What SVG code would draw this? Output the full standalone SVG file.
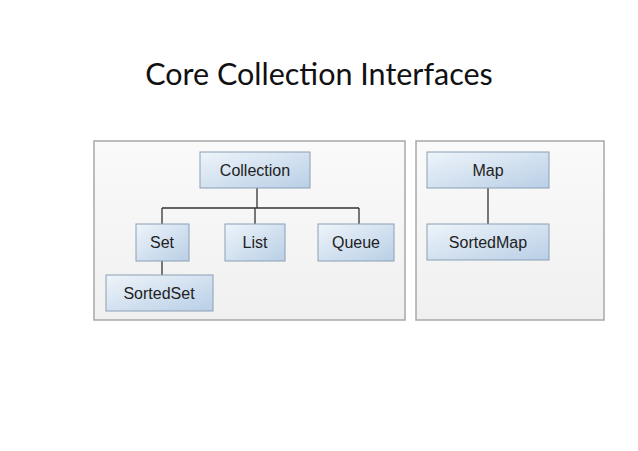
<svg xmlns="http://www.w3.org/2000/svg" width="638" height="451" viewBox="0 0 638 451">
<defs>
<linearGradient id="g" x1="0" y1="0" x2="1" y2="1">
<stop offset="0" stop-color="#eef4fa"/><stop offset="1" stop-color="#b9cfe6"/>
</linearGradient>
<linearGradient id="p" x1="0" y1="0" x2="0" y2="1">
<stop offset="0" stop-color="#fafafa"/><stop offset="1" stop-color="#f0f0f0"/>
</linearGradient>
</defs>
<style>
.panel{fill:url(#p);stroke:#a8a8a8;stroke-width:1.5}
.box{fill:url(#g);stroke:#8a9fb5;stroke-width:1}
.t{font-family:"Liberation Sans",Arial,sans-serif;font-size:16px;fill:#222;text-anchor:middle}
.c{stroke:#333;stroke-width:1.3;fill:none}
</style>
<rect width="638" height="451" fill="#fff"/>
<text x="319" y="85" text-anchor="middle" font-family="Lato,'Open Sans',sans-serif" font-size="30.5" fill="#111">Core Collection Interfaces</text>
<rect class="panel" x="94" y="141" width="311" height="179"/>
<rect class="panel" x="416" y="141" width="188" height="179"/>
<g id="connectors">
<path class="c" d="M257 188V208M162 208H359M162 208V224M255 208V224M359 208V224M162 261V275M488 188V224"/>
</g>
<g id="collection"><rect class="box" x="200" y="152" width="110" height="36"/><text class="t" x="255" y="176">Collection</text></g>
<g id="set"><rect class="box" x="136" y="224" width="53" height="37"/><text class="t" x="162" y="248">Set</text></g>
<g id="list"><rect class="box" x="225" y="224" width="60" height="37"/><text class="t" x="255" y="248">List</text></g>
<g id="queue"><rect class="box" x="318" y="224" width="76" height="37"/><text class="t" x="356" y="248">Queue</text></g>
<g id="sortedset"><rect class="box" x="106" y="275" width="107" height="36"/><text class="t" x="159" y="299">SortedSet</text></g>
<g id="map"><rect class="box" x="427" y="152" width="122" height="36"/><text class="t" x="488" y="176">Map</text></g>
<g id="sortedmap"><rect class="box" x="427" y="224" width="122" height="36"/><text class="t" x="488" y="248">SortedMap</text></g>
</svg>
